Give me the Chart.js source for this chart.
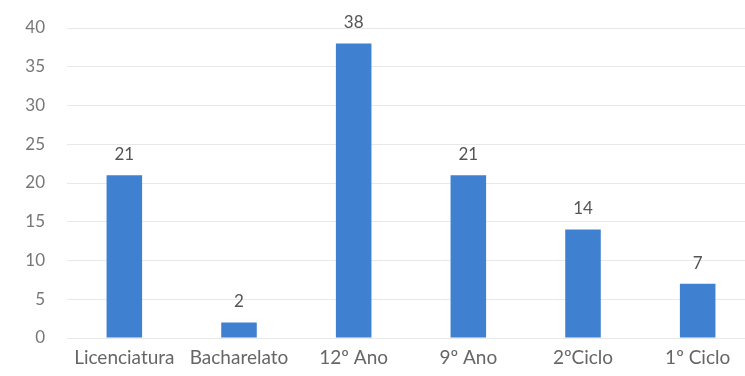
<!DOCTYPE html>
<html lang="pt">
  <head>
    <meta charset="UTF-8" />
    <title>Habilitações</title>
    <style>
      html, body { margin: 0; padding: 0; background: #fff; overflow: hidden; }
      canvas { display: block; }
    </style>
  </head>
  <body>
    <canvas id="chart" width="755" height="376"></canvas>
    <script src="https://cdn.jsdelivr.net/npm/chart.js@4.4.1/dist/chart.umd.min.js"></script>
    <script>
      const categories = ["Licenciatura", "Bacharelato", "12º Ano", "9º Ano", "2ºCiclo", "1º Ciclo"];
      const values = [21, 2, 38, 21, 14, 7];
      const yTicks = [0, 5, 10, 15, 20, 25, 30, 35, 40];

      // numbers above the bars
      const barLabels = {
        id: "barLabels",
        afterDatasetsDraw(chart) {
          const ctx = chart.ctx;
          const meta = chart.getDatasetMeta(0);
          ctx.save();
          ctx.font = "17px Lato";
          ctx.fillStyle = "#555";
          ctx.textAlign = "center";
          ctx.textBaseline = "bottom";
          meta.data.forEach((bar, i) => {
            ctx.fillText(values[i], bar.x, bar.y - 12);
          });
          ctx.restore();
        },
      };

      new Chart(document.getElementById("chart"), {
        type: "bar",
        data: {
          labels: categories,
          datasets: [
            {
              data: values,
              backgroundColor: "#3f80d1",
              categoryPercentage: 1,
              barPercentage: 0.31,
            },
          ],
        },
        options: {
          responsive: false,
          animation: false,
          layout: { padding: 0 },
          plugins: { legend: { display: false }, tooltip: { enabled: false } },
          scales: {
            x: {
              afterFit: (s) => { s.height = 38; },
              grid: { display: false, drawTicks: false },
              border: { display: false },
              ticks: { color: "#666", font: { family: "Lato", size: 19 }, padding: 8 },
            },
            y: {
              min: 0,
              max: 40,
              afterBuildTicks: (s) => { s.ticks = yTicks.map((v) => ({ value: v })); },
              afterFit: (s) => {
                s.width = 67;
                s.paddingTop = 28;
                s.paddingBottom = 0;
              },
              grid: { color: "#e8e8e8", drawTicks: false },
              border: { display: false },
              ticks: { color: "#777", font: { family: "Lato", size: 17 }, padding: 22 },
            },
          },
        },
        plugins: [barLabels],
      });
    </script>
  </body>
</html>
